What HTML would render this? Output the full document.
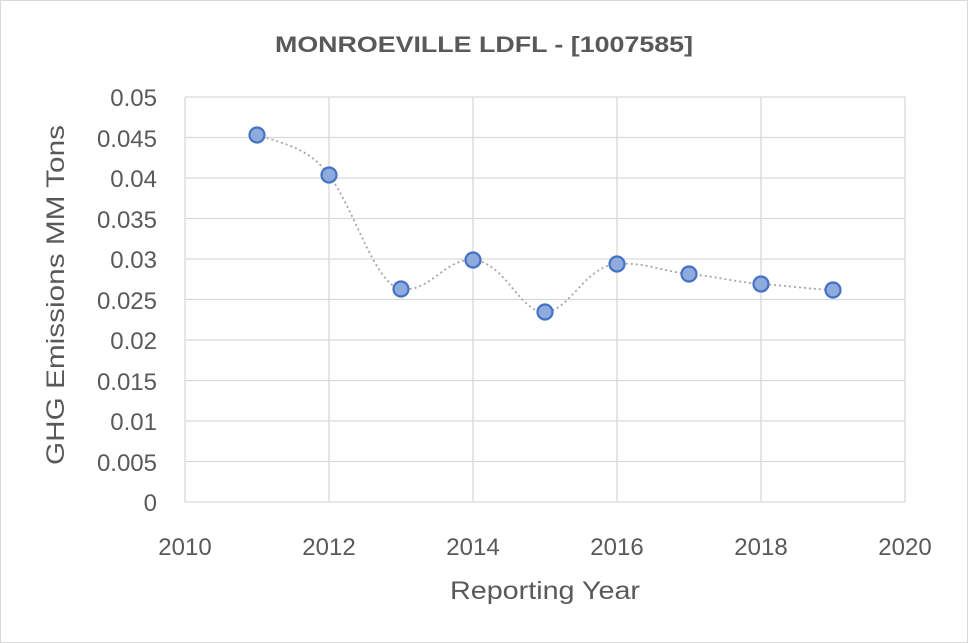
<!DOCTYPE html>
<html><head><style>
body{margin:0;background:#fff;}
svg{display:block;font-family:"Liberation Sans",sans-serif;}
</style></head><body>
<svg width="968" height="643" viewBox="0 0 968 643">
<rect x="0.5" y="0.5" width="967" height="642" fill="#fff" stroke="#d9d9d9"/>
<text x="484" y="52" text-anchor="middle" font-size="22" font-weight="bold" fill="#595959" textLength="418" lengthAdjust="spacingAndGlyphs">MONROEVILLE LDFL - [1007585]</text>
<g stroke="#d9d9d9" stroke-width="1.3">
<line x1="185" y1="97" x2="905" y2="97"/><line x1="185" y1="137.5" x2="905" y2="137.5"/>
<line x1="185" y1="178" x2="905" y2="178"/><line x1="185" y1="218.5" x2="905" y2="218.5"/>
<line x1="185" y1="259" x2="905" y2="259"/><line x1="185" y1="299.5" x2="905" y2="299.5"/>
<line x1="185" y1="340" x2="905" y2="340"/><line x1="185" y1="380.5" x2="905" y2="380.5"/>
<line x1="185" y1="421" x2="905" y2="421"/><line x1="185" y1="461.5" x2="905" y2="461.5"/>
<line x1="185" y1="502" x2="905" y2="502"/>
<line x1="185" y1="97" x2="185" y2="502"/><line x1="329" y1="97" x2="329" y2="502"/>
<line x1="473" y1="97" x2="473" y2="502"/><line x1="617" y1="97" x2="617" y2="502"/>
<line x1="761" y1="97" x2="761" y2="502"/><line x1="905" y1="97" x2="905" y2="502"/>
</g>
<g font-size="24" fill="#595959" text-anchor="end">
<text x="157" y="106">0.05</text><text x="157" y="147">0.045</text><text x="157" y="187">0.04</text>
<text x="157" y="228">0.035</text><text x="157" y="268">0.03</text><text x="157" y="309">0.025</text>
<text x="157" y="349">0.02</text><text x="157" y="390">0.015</text><text x="157" y="430">0.01</text>
<text x="157" y="471">0.005</text><text x="157" y="511">0</text>
</g>
<g font-size="24" fill="#595959" text-anchor="middle">
<text x="185" y="555">2010</text><text x="329" y="555">2012</text><text x="473" y="555">2014</text>
<text x="617" y="555">2016</text><text x="761" y="555">2018</text><text x="905" y="555">2020</text>
</g>
<text x="545" y="599" text-anchor="middle" font-size="25" fill="#595959" textLength="190" lengthAdjust="spacingAndGlyphs">Reporting Year</text>
<text transform="translate(64,295) rotate(-90)" text-anchor="middle" font-size="25" fill="#595959" textLength="340" lengthAdjust="spacingAndGlyphs">GHG Emissions MM Tons</text>
<path d="M257,135 C290,145 310,150 329,175 C355,210 375,285 401,289 C430,293 445,258 473,260 C505,262 520,313 545,312 C570,311 585,266 617,264 C645,262 660,271 689,274 C720,277 735,282 761,284 C790,286 810,289 833,290" fill="none" stroke="#a6a6a6" stroke-width="1.8" stroke-dasharray="2,3"/>
<g fill="#8faadc" stroke="#4472c4" stroke-width="2.2">
<circle cx="257" cy="135" r="7.5"/><circle cx="329" cy="175" r="7.5"/><circle cx="401" cy="289" r="7.5"/>
<circle cx="473" cy="260" r="7.5"/><circle cx="545" cy="312" r="7.5"/><circle cx="617" cy="264" r="7.5"/>
<circle cx="689" cy="274" r="7.5"/><circle cx="761" cy="284" r="7.5"/><circle cx="833" cy="290" r="7.5"/>
</g>
</svg>
</body></html>
